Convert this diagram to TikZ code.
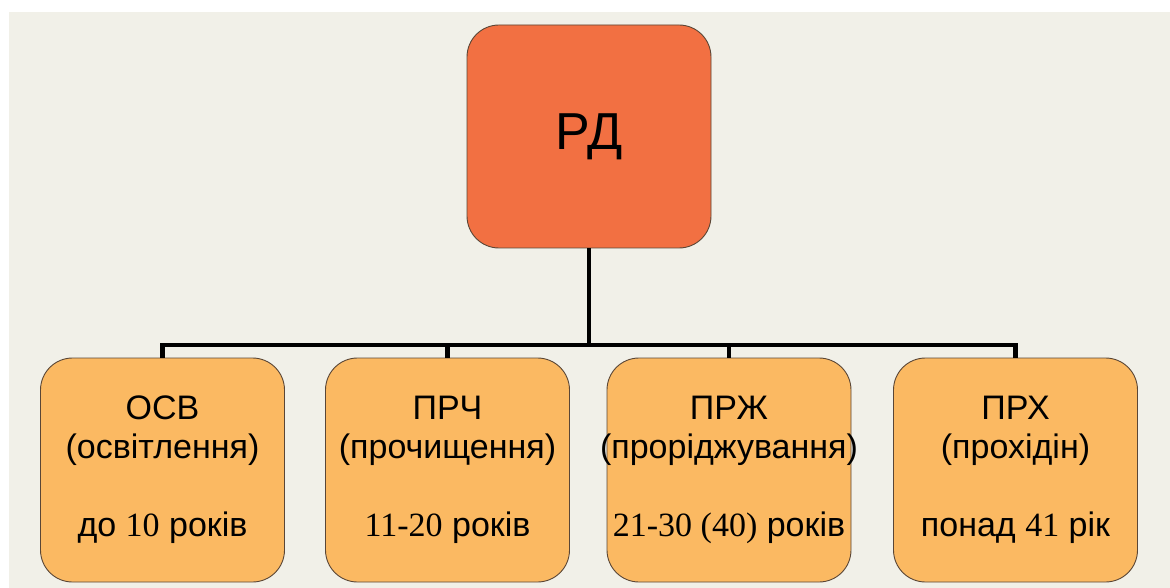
\documentclass[tikz,border=0pt]{standalone}
\usepackage{fontspec}
\setmainfont{Liberation Sans}
\newfontfamily\numfont{Liberation Serif}
\definecolor{bgcream}{HTML}{F1F0E8}
\definecolor{rdorange}{HTML}{F27042}
\definecolor{leaforange}{HTML}{FBB962}
\definecolor{boxedge}{HTML}{5A4636}
\begin{document}
\begin{tikzpicture}[x=1pt, y=-1pt, line join=miter,
    rootbox/.style={draw=boxedge, line width=0.9pt, fill=rdorange, rounded corners=32pt,
        minimum width=244pt, minimum height=223pt, inner sep=0pt,
        font=\fontsize{52}{60}\selectfont},
    leafbox/.style={draw=boxedge, line width=0.9pt, fill=leaforange, rounded corners=32pt,
        minimum width=244pt, minimum height=224pt, inner sep=0pt, align=center,
        font=\fontsize{34}{39}\selectfont},
    conn/.style={line width=4.5pt, black}]
    \useasboundingbox (0,0) rectangle (1170,588);
    \fill[white] (0,0) rectangle (1170,588);
    \fill[bgcream] (9,12) rectangle (1170,588);
    % boxes
    \node[rootbox] (rd) at (589,136.5) {РД};
    \node[leafbox] (osv) at (162.5,470) {ОСВ\\(освітлення)\\[39pt]до {\numfont 10} років};
    \node[leafbox] (prch) at (447.5,470) {ПРЧ\\(прочищення)\\[39pt]{\numfont 11-20} років};
    \node[leafbox] (przh) at (729,470) {ПРЖ\\\makebox[220pt]{(проріджування)}\\[39pt]\makebox[220pt]{{\numfont 21-30 (40)} років}};
    \node[leafbox] (prkh) at (1015.5,470) {ПРХ\\(прохідін)\\[39pt]понад {\numfont 41} рік};
    % connectors
    \coordinate (fork) at (589,345);
    \draw[conn] (rd.south) -- (fork);
    \draw[conn] (osv.north) -- (osv.north |- fork) -- (prkh.north |- fork) -- (prkh.north);
    \draw[conn] (prch.north) -- (prch.north |- fork);
    \draw[conn] (przh.north) -- (przh.north |- fork);
\end{tikzpicture}
\end{document}
